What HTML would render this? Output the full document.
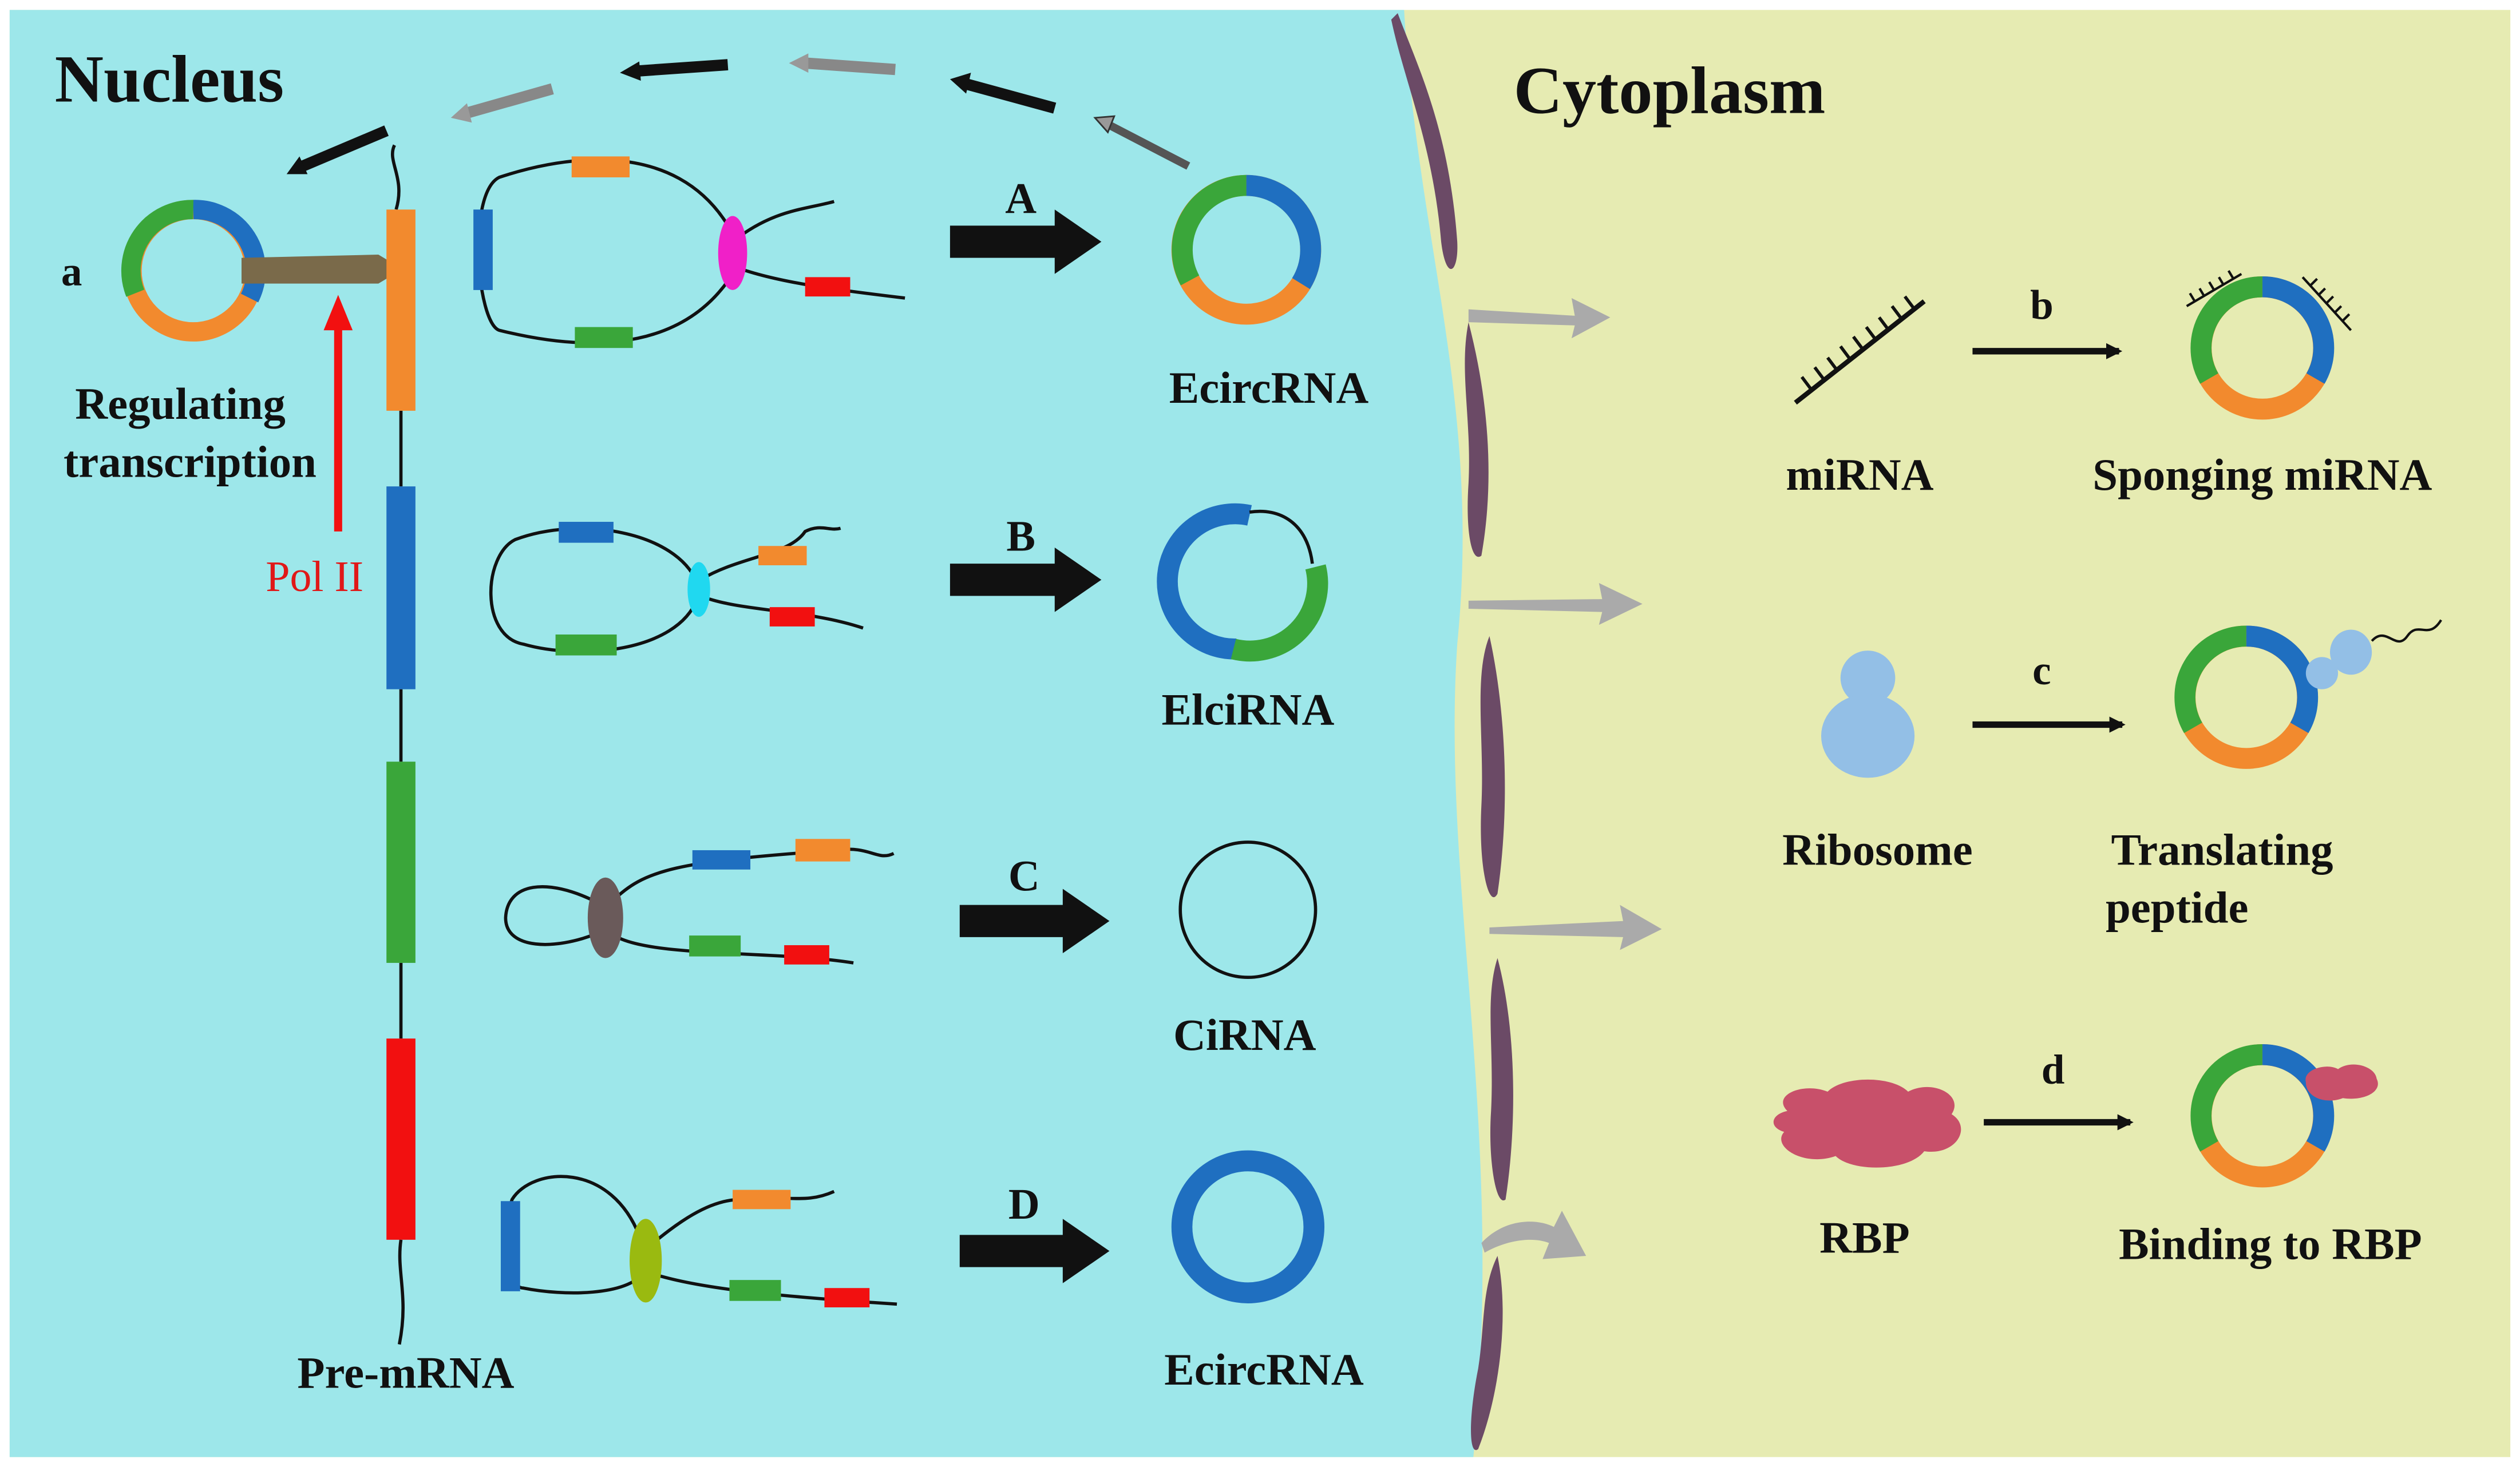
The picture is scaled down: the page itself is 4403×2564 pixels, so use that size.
<!DOCTYPE html>
<html><head><meta charset="utf-8">
<style>
html,body{margin:0;padding:0;background:#fff;}
svg{display:block;}
text{font-family:"Liberation Serif",serif;font-weight:bold;fill:#111;}
</style></head>
<body>
<svg width="4403" height="2564" viewBox="0 0 1565 911" xmlns="http://www.w3.org/2000/svg">
<defs>
<marker id="ah" markerWidth="10" markerHeight="10" refX="8" refY="5" orient="auto" markerUnits="userSpaceOnUse"><path d="M0,0 L10,5 L0,10 z" fill="#111"/></marker>
</defs>
<rect width="1565" height="911" fill="#fff"/>
<rect x="6" y="6" width="1553" height="899" fill="#e6ebb2"/>
<path d="M6,6 L872,6 C880,150 920,250 905,400 C895,550 935,700 915,905 L6,905 z" fill="#9de7ea"/>
<!-- membrane -->
<g fill="#6b4a66">
<path d="M868,8 C880,40 900,80 905,150 C906,170 898,175 895,150 C890,90 872,50 864,12 z"/>
<path d="M912,200 C925,250 928,300 920,345 C914,350 910,330 912,300 C914,260 906,230 912,200 z"/>
<path d="M925,395 C935,440 938,500 930,555 C925,565 918,540 920,500 C922,460 915,420 925,395 z"/>
<path d="M930,595 C942,640 942,700 935,745 C929,750 924,720 926,690 C928,650 922,620 930,595 z"/>
<path d="M930,780 C938,820 930,870 918,900 C912,905 912,880 918,850 C922,825 920,800 930,780 z"/>
</g>
<text x="34" y="63" font-size="42">Nucleus</text>
<text x="940" y="70" font-size="42">Cytoplasm</text>

<!-- top curved arrows -->
<g stroke-width="5">
<line x1="738" y1="103" x2="686" y2="76" stroke="#555"/><polygon points="680,73 692,72 688,82" fill="#999" stroke="#333" stroke-width="1"/>
<line x1="655" y1="67" x2="600" y2="52" stroke="#111" stroke-width="7"/><polygon points="590,49 603,45 600,58" fill="#111"/>
<line x1="556" y1="43" x2="500" y2="39" stroke="#888" stroke-width="7"/><polygon points="490,39 502,33 502,45" fill="#999"/>
<line x1="452" y1="40" x2="395" y2="44" stroke="#111" stroke-width="7"/><polygon points="385,45 397,38 398,50" fill="#111"/>
<line x1="343" y1="55" x2="290" y2="70" stroke="#888" stroke-width="7"/><polygon points="280,73 290,64 293,76" fill="#999"/>
<line x1="240" y1="81" x2="188" y2="103" stroke="#111" stroke-width="7"/><polygon points="178,108 186,97 191,108" fill="#111"/>
</g>

<!-- ring a -->
<g fill="none" stroke-width="12">
<circle cx="120" cy="168" r="38" stroke="#f28a2e"/>
<path d="M120,130 A38,38 0 0 1 155,185" stroke="#1f6fc0"/>
<path d="M84,182 A38,38 0 0 1 120,130" stroke="#3aa63a"/>
</g>
<text x="38" y="177" font-size="26">a</text>
<polygon points="150,160 235,158 250,167 235,176 150,176" fill="#7a6a4a"/>
<line x1="210" y1="330" x2="210" y2="200" stroke="#f21010" stroke-width="5"/>
<polygon points="210,183 201,205 219,205" fill="#f21010"/>
<text x="165" y="367" font-size="27" style="font-weight:normal;fill:#e01818">Pol II</text>
<text x="112" y="260" font-size="28" text-anchor="middle">Regulating</text>
<text x="118" y="296" font-size="28" text-anchor="middle">transcription</text>

<!-- pre-mRNA -->
<path d="M245,90 C240,100 252,110 246,130" stroke="#111" fill="none" stroke-width="2"/>
<line x1="249" y1="255" x2="249" y2="302" stroke="#111" stroke-width="2"/>
<line x1="249" y1="428" x2="249" y2="473" stroke="#111" stroke-width="2"/>
<line x1="249" y1="598" x2="249" y2="645" stroke="#111" stroke-width="2"/>
<path d="M249,770 C246,790 254,805 248,835" stroke="#111" fill="none" stroke-width="2"/>
<rect x="240" y="130" width="18" height="125" fill="#f28a2e"/>
<rect x="240" y="302" width="18" height="126" fill="#1f6fc0"/>
<rect x="240" y="473" width="18" height="125" fill="#3aa63a"/>
<rect x="240" y="645" width="18" height="125" fill="#f21010"/>
<text x="252" y="862" font-size="28" text-anchor="middle">Pre-mRNA</text>

<!-- structure A -->
<g fill="none" stroke="#111" stroke-width="2">
<path d="M455,145 C420,80 340,100 310,110 C290,120 296,200 310,205 C350,215 420,225 455,170"/>
<path d="M455,150 C480,130 500,130 518,125"/>
<path d="M455,165 C480,175 520,180 562,185"/>
</g>
<rect x="355" y="97" width="36" height="13" fill="#f28a2e"/>
<rect x="294" y="130" width="12" height="50" fill="#1f6fc0"/>
<rect x="357" y="203" width="36" height="13" fill="#3aa63a"/>
<rect x="500" y="172" width="28" height="12" fill="#f21010"/>
<ellipse cx="455" cy="157" rx="9" ry="23" fill="#f020c8"/>

<!-- structure B -->
<g fill="none" stroke="#111" stroke-width="2">
<path d="M433,362 C420,330 360,320 320,335 C300,345 298,395 325,400 C360,410 420,405 433,372"/>
<path d="M435,360 C460,345 490,345 500,330 C510,325 515,330 522,328"/>
<path d="M435,370 C460,380 500,378 536,390"/>
</g>
<rect x="347" y="324" width="34" height="13" fill="#1f6fc0"/>
<rect x="345" y="394" width="38" height="13" fill="#3aa63a"/>
<rect x="471" y="339" width="30" height="12" fill="#f28a2e"/>
<rect x="478" y="377" width="28" height="12" fill="#f21010"/>
<ellipse cx="434" cy="366" rx="7" ry="17" fill="#20d8f0"/>

<!-- structure C -->
<g fill="none" stroke="#111" stroke-width="2">
<path d="M370,560 C340,545 315,548 314,570 C314,590 345,590 370,580"/>
<path d="M380,560 C400,540 420,535 520,528 C540,525 545,535 555,530"/>
<path d="M380,580 C400,595 480,590 530,598"/>
</g>
<rect x="430" y="528" width="36" height="12" fill="#1f6fc0"/>
<rect x="494" y="521" width="34" height="14" fill="#f28a2e"/>
<rect x="428" y="581" width="32" height="13" fill="#3aa63a"/>
<rect x="487" y="587" width="28" height="12" fill="#f21010"/>
<ellipse cx="376" cy="570" rx="11" ry="25" fill="#6a5a5a"/>

<!-- structure D -->
<g fill="none" stroke="#111" stroke-width="2">
<path d="M398,770 C380,720 330,725 318,745 C310,770 315,800 325,800 C350,805 390,805 400,790"/>
<path d="M402,775 C420,760 440,745 460,745 C490,742 500,748 518,740"/>
<path d="M402,790 C430,800 480,805 557,810"/>
</g>
<rect x="311" y="746" width="12" height="56" fill="#1f6fc0"/>
<rect x="455" y="739" width="36" height="12" fill="#f28a2e"/>
<rect x="453" y="795" width="32" height="13" fill="#3aa63a"/>
<rect x="512" y="800" width="28" height="12" fill="#f21010"/>
<ellipse cx="401" cy="783" rx="10" ry="26" fill="#9aba10"/>

<!-- big arrows -->
<g fill="#111">
<polygon points="590,140 655,140 655,130 684,150 655,170 655,160 590,160"/>
<polygon points="590,350 655,350 655,340 684,360 655,380 655,370 590,370"/>
<polygon points="596,562 660,562 660,552 689,572 660,592 660,582 596,582"/>
<polygon points="596,767 660,767 660,757 689,777 660,797 660,787 596,787"/>
</g>
<text x="634" y="132" font-size="27" text-anchor="middle">A</text>
<text x="634" y="342" font-size="27" text-anchor="middle">B</text>
<text x="636" y="553" font-size="27" text-anchor="middle">C</text>
<text x="636" y="757" font-size="27" text-anchor="middle">D</text>

<!-- rings right nucleus -->
<g fill="none" stroke-width="13">
<circle cx="774" cy="155" r="40" stroke="#f28a2e"/>
<path d="M774,115 A40,40 0 0 1 808,176" stroke="#1f6fc0"/>
<path d="M739,174 A40,40 0 0 1 774,115" stroke="#3aa63a"/>
<path d="M776,320 A42,42 0 1 0 768,403" stroke="#1f6fc0"/>
<path d="M766,403 A42,42 0 0 0 817,352" stroke="#3aa63a"/>
<circle cx="775" cy="762" r="41" stroke="#1f6fc0"/>
</g>
<path d="M776,318 C795,315 812,325 815,350" stroke="#111" stroke-width="2" fill="none"/>
<circle cx="775" cy="565" r="42" fill="none" stroke="#111" stroke-width="2"/>
<text x="788" y="250" font-size="28" text-anchor="middle">EcircRNA</text>
<text x="775" y="450" font-size="28" text-anchor="middle">ElciRNA</text>
<text x="773" y="652" font-size="28" text-anchor="middle">CiRNA</text>
<text x="785" y="860" font-size="28" text-anchor="middle">EcircRNA</text>

<!-- gray boundary arrows -->
<g fill="#aaa" stroke="none">
<path d="M912,192 L978,196 L976,185 L1000,197 L976,210 L978,202 L912,200 z"/>
<path d="M912,373 L995,372 L993,362 L1020,375 L993,388 L995,380 L912,378 z"/>
<path d="M925,576 L1008,572 L1006,562 L1032,577 L1006,590 L1008,582 L925,580 z"/>
<path d="M920,772 C935,756 955,757 965,762 L970,752 L985,780 L958,782 L962,772 C952,768 936,770 922,778 z"/>
</g>

<!-- miRNA -->
<line x1="1115" y1="250" x2="1195" y2="187" stroke="#111" stroke-width="3"/>
<g stroke="#111" stroke-width="2">
<line x1="1125" y1="242" x2="1119" y2="234"/><line x1="1133" y1="236" x2="1127" y2="228"/>
<line x1="1141" y1="230" x2="1135" y2="222"/><line x1="1149" y1="223" x2="1143" y2="215"/>
<line x1="1157" y1="217" x2="1151" y2="209"/><line x1="1165" y1="211" x2="1159" y2="203"/>
<line x1="1173" y1="205" x2="1167" y2="197"/><line x1="1181" y1="198" x2="1175" y2="190"/>
<line x1="1189" y1="192" x2="1183" y2="184"/>
</g>
<text x="1155" y="304" font-size="28" text-anchor="middle">miRNA</text>
<line x1="1225" y1="218" x2="1316" y2="218" stroke="#111" stroke-width="4" marker-end="url(#ah)"/>
<text x="1268" y="198" font-size="26" text-anchor="middle">b</text>
<g fill="none" stroke-width="13">
<circle cx="1405" cy="216" r="38" stroke="#f28a2e"/>
<path d="M1405,178 A38,38 0 0 1 1438,235" stroke="#1f6fc0"/>
<path d="M1372,235 A38,38 0 0 1 1405,178" stroke="#3aa63a"/>
</g>
<g stroke="#111" stroke-width="1.5">
<line x1="1358" y1="190" x2="1392" y2="170"/><line x1="1430" y1="172" x2="1460" y2="205"/>
<line x1="1363" y1="187" x2="1360" y2="182"/><line x1="1369" y1="184" x2="1366" y2="179"/><line x1="1375" y1="180" x2="1372" y2="175"/><line x1="1381" y1="177" x2="1378" y2="172"/><line x1="1387" y1="173" x2="1384" y2="168"/>
<line x1="1435" y1="177" x2="1439" y2="173"/><line x1="1440" y1="183" x2="1444" y2="179"/><line x1="1445" y1="188" x2="1449" y2="184"/><line x1="1450" y1="194" x2="1454" y2="190"/><line x1="1455" y1="199" x2="1459" y2="195"/>
</g>
<text x="1405" y="304" font-size="28" text-anchor="middle">Sponging miRNA</text>

<!-- ribosome -->
<circle cx="1160" cy="421" r="17" fill="#93bfe6"/>
<ellipse cx="1160" cy="457" rx="29" ry="26" fill="#93bfe6"/>
<text x="1166" y="537" font-size="28" text-anchor="middle">Ribosome</text>
<line x1="1225" y1="450" x2="1318" y2="450" stroke="#111" stroke-width="4" marker-end="url(#ah)"/>
<text x="1268" y="425" font-size="26" text-anchor="middle">c</text>
<g fill="none" stroke-width="13">
<circle cx="1395" cy="433" r="38" stroke="#f28a2e"/>
<path d="M1395,395 A38,38 0 0 1 1428,452" stroke="#1f6fc0"/>
<path d="M1362,452 A38,38 0 0 1 1395,395" stroke="#3aa63a"/>
</g>
<circle cx="1442" cy="418" r="10" fill="#93bfe6"/>
<ellipse cx="1460" cy="405" rx="13" ry="14" fill="#93bfe6"/>
<path d="M1473,398 C1482,388 1488,405 1495,395 C1502,385 1508,398 1516,385" stroke="#111" fill="none" stroke-width="1.5"/>
<text x="1380" y="537" font-size="28" text-anchor="middle">Translating</text>
<text x="1352" y="573" font-size="28" text-anchor="middle">peptide</text>

<!-- RBP -->
<path d="M1110,690 C1100,680 1120,672 1135,678 C1145,668 1175,668 1185,678 C1200,670 1220,680 1212,692 C1225,700 1215,718 1195,715 C1185,728 1150,728 1140,718 C1120,725 1100,712 1108,703 C1098,700 1100,692 1110,690 z" fill="#c8506a"/>
<text x="1158" y="778" font-size="28" text-anchor="middle">RBP</text>
<line x1="1232" y1="697" x2="1323" y2="697" stroke="#111" stroke-width="4" marker-end="url(#ah)"/>
<text x="1275" y="673" font-size="26" text-anchor="middle">d</text>
<g fill="none" stroke-width="13">
<circle cx="1405" cy="693" r="38" stroke="#f28a2e"/>
<path d="M1405,655 A38,38 0 0 1 1438,712" stroke="#1f6fc0"/>
<path d="M1372,712 A38,38 0 0 1 1405,655" stroke="#3aa63a"/>
</g>
<path d="M1432,672 C1430,664 1445,660 1452,664 C1460,658 1475,662 1476,670 C1480,678 1468,684 1455,682 C1445,686 1432,682 1432,672 z" fill="#c8506a"/>
<text x="1410" y="782" font-size="28" text-anchor="middle">Binding to RBP</text>
</svg>
</body></html>
